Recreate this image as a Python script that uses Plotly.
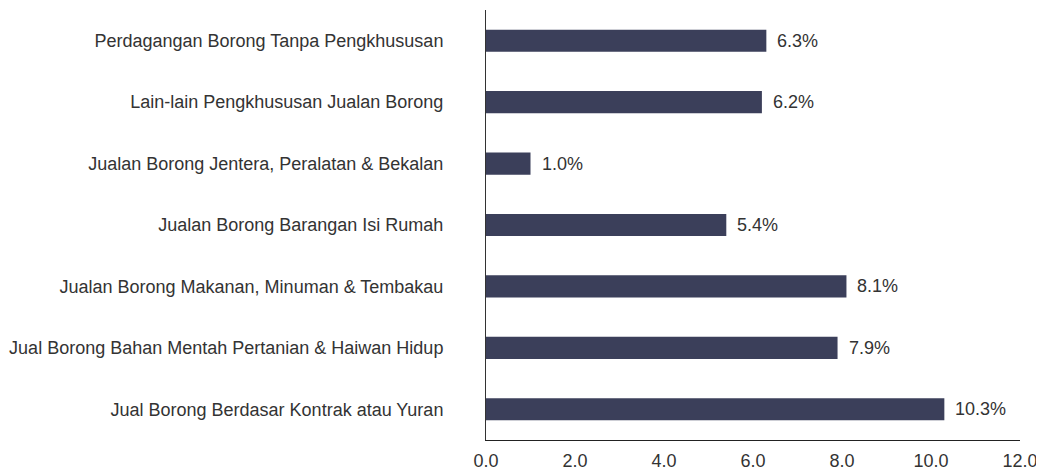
import plotly.graph_objects as go

categories = [
    "Jual Borong Berdasar Kontrak atau Yuran",
    "Jual Borong Bahan Mentah Pertanian & Haiwan Hidup",
    "Jualan Borong Makanan, Minuman & Tembakau",
    "Jualan Borong Barangan Isi Rumah",
    "Jualan Borong Jentera, Peralatan & Bekalan",
    "Lain-lain Pengkhususan Jualan Borong",
    "Perdagangan Borong Tanpa Pengkhususan",
]
values = [10.3, 7.9, 8.1, 5.4, 1.0, 6.2, 6.3]
x_ticks = [0, 2, 4, 6, 8, 10, 12]
x_tick_labels = ["0.0", "2.0", "4.0", "6.0", "8.0", "10.0", "12.0"]

bar_color = "#3b3f5a"
text_color = "#333333"
font_family = "Liberation Sans"
fs = 18

fig = go.Figure()
fig.add_trace(go.Bar(
    x=values,
    y=categories,
    orientation="h",
    marker=dict(color=bar_color, line=dict(width=0)),
    width=0.36,
    hoverinfo="skip",
))

for v, c in zip(values, categories):
    fig.add_annotation(
        x=v, y=c, text=f"{v:.1f}%", showarrow=False,
        xanchor="left", yanchor="middle", xshift=9,
        font=dict(size=fs, color=text_color, family=font_family),
    )

# page body has an 8px default margin, so the figure is drawn 8px smaller
fig.update_layout(
    width=1036, height=465,
    margin=dict(l=478, r=24, t=2, b=33),
    plot_bgcolor="white", paper_bgcolor="white",
    showlegend=False,
    font=dict(family=font_family, size=fs, color=text_color),
    xaxis=dict(
        range=[0, 12], tickvals=x_ticks, ticktext=x_tick_labels,
        showgrid=False, zeroline=False, showline=True,
        linecolor="#222222", linewidth=1, ticks="",
        ticklabelstandoff=4, automargin=False,
        tickfont=dict(size=fs, color=text_color, family=font_family),
        fixedrange=True,
    ),
    yaxis=dict(
        categoryorder="array", categoryarray=categories,
        range=[-0.5, 6.5],
        showgrid=False, zeroline=False, showline=True,
        linecolor="#333333", linewidth=1, ticks="",
        ticklabelstandoff=38, automargin=False,
        tickfont=dict(size=fs, color=text_color, family=font_family),
        fixedrange=True,
    ),
)

fig.write_html("out.html")
